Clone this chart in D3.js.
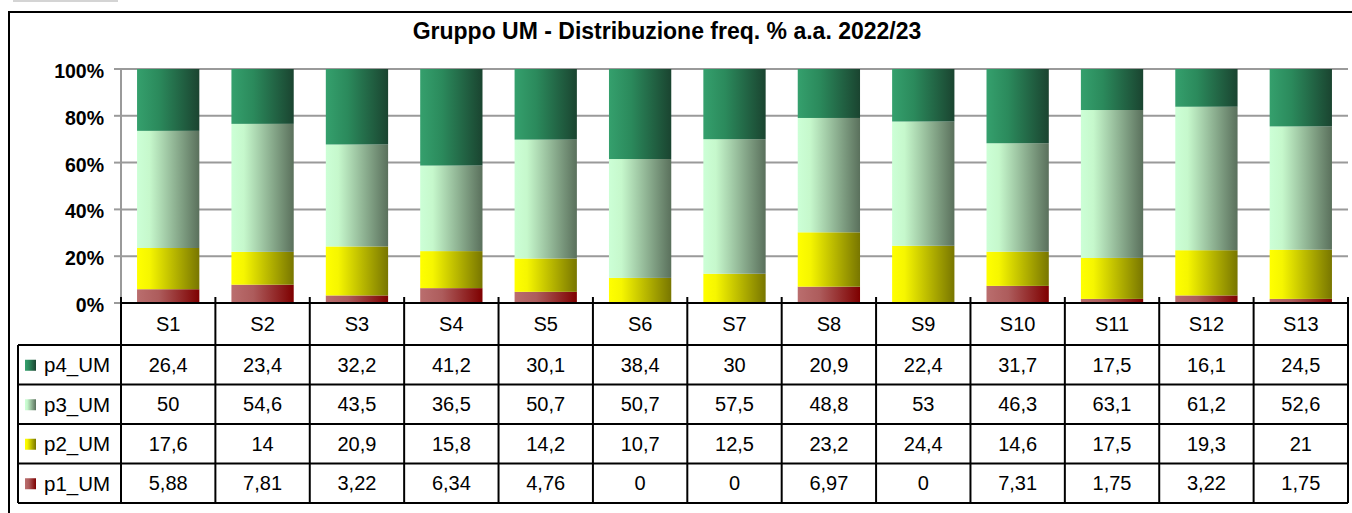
<!DOCTYPE html>
<html><head><meta charset="utf-8">
<script src="https://cdn.jsdelivr.net/npm/d3@7"></script>
<style>body{margin:0;background:#fff}svg{display:block;font-family:"Liberation Sans",Arial,sans-serif}</style>
</head><body>
<svg id="c" width="1352" height="513"></svg>
<script>
const categories = ["S1","S2","S3","S4","S5","S6","S7","S8","S9","S10","S11","S12","S13"];
const p4_UM = [26.4,23.4,32.2,41.2,30.1,38.4,30,20.9,22.4,31.7,17.5,16.1,24.5];
const p3_UM = [50,54.6,43.5,36.5,50.7,50.7,57.5,48.8,53,46.3,63.1,61.2,52.6];
const p2_UM = [17.6,14,20.9,15.8,14.2,10.7,12.5,23.2,24.4,14.6,17.5,19.3,21];
const p1_UM = [5.88,7.81,3.22,6.34,4.76,0,0,6.97,0,7.31,1.75,3.22,1.75];
const seriesNames = ["p1_UM","p2_UM","p3_UM","p4_UM"];
const yTicks = [0,20,40,60,80,100];
const title = "Gruppo UM - Distribuzione freq. % a.a. 2022/23";

const seriesValues = {p1_UM, p2_UM, p3_UM, p4_UM};
const grads = {
  p4_UM: [["0","#35a06d"],["0.35","#2b8a5c"],["1","#1a4430"]],
  p3_UM: [["0","#ccffd6"],["0.2","#c6f8cc"],["1","#5a705c"]],
  p2_UM: [["0","#ffff00"],["0.2","#f6f600"],["1","#787600"]],
  p1_UM: [["0","#ba6e6e"],["0.35","#ad5c5c"],["1","#7e0000"]]
};

const svg = d3.select("#c");
const defs = svg.append("defs");
Object.entries(grads).forEach(([k,stops])=>{
  const g = defs.append("linearGradient").attr("id","g_"+k).attr("x1",0).attr("x2",1).attr("y1",0).attr("y2",0);
  stops.forEach(([o,c])=>g.append("stop").attr("offset",o).attr("stop-color",c));
});

const L=121, R=1348, T=69, B=303;
const x = d3.scaleBand().domain(categories).range([L,R]).paddingInner(0.34).paddingOuter(0.17);
const xc = d3.scaleBand().domain(categories).range([L,R]);
const y = d3.scaleLinear().domain([0,100]).range([B,T]);

// top-left gray tab
svg.append("rect").attr("x",13).attr("y",0).attr("width",105).attr("height",2).attr("fill","#d4d4d4");
// outer border
svg.append("rect").attr("x",9).attr("y",12).attr("width",1360).attr("height",520).attr("fill","none").attr("stroke","#000").attr("stroke-width",2);

svg.append("text").attr("x",667).attr("y",39).attr("text-anchor","middle")
  .attr("font-size",23).attr("font-weight","bold").text(title);

// gridlines
svg.append("g").selectAll("line").data(yTicks.filter(d=>d>0)).join("line")
  .attr("x1",L).attr("x2",R).attr("y1",d=>y(d)).attr("y2",d=>y(d))
  .attr("stroke","#9a9a9a").attr("stroke-width",2);
// left axis
svg.append("line").attr("x1",L).attr("x2",L).attr("y1",T).attr("y2",B).attr("stroke","#9a9a9a").attr("stroke-width",2);
svg.append("g").selectAll("line").data(yTicks).join("line")
  .attr("x1",L-7).attr("x2",L).attr("y1",d=>y(d)).attr("y2",d=>y(d))
  .attr("stroke","#9a9a9a").attr("stroke-width",2);
svg.append("g").selectAll("text").data(yTicks).join("text")
  .attr("x",104).attr("y",d=>y(d)+9).attr("text-anchor","end")
  .attr("font-size",19.5).attr("font-weight","bold").text(d=>d+"%");

// stacked bars
const rows = categories.map((c,i)=>{
  const o={cat:c};
  const tot = seriesNames.reduce((s,n)=>s+seriesValues[n][i],0);
  seriesNames.forEach(n=>o[n]=seriesValues[n][i]/tot*100);
  return o;
});
const stack = d3.stack().keys(seriesNames)(rows);
svg.append("g").selectAll("g").data(stack).join("g")
  .attr("fill",s=>`url(#g_${s.key})`)
  .selectAll("rect").data(s=>s).join("rect")
  .attr("x",d=>x(d.data.cat)).attr("width",x.bandwidth())
  .attr("y",d=>y(d[1])).attr("height",d=>Math.max(0,y(d[0])-y(d[1])));

// data table
const headTop=B, headBot=345, rowH=39.5;
const tableOrder = ["p4_UM","p3_UM","p2_UM","p1_UM"];
const legL = 18;
const tb = svg.append("g");
tb.append("line").attr("x1",L).attr("x2",R).attr("y1",B).attr("y2",B).attr("stroke","#000").attr("stroke-width",2);
for(let i=0;i<=tableOrder.length;i++){
  const yy = headBot+i*rowH;
  tb.append("line").attr("x1",legL).attr("x2",R).attr("y1",yy).attr("y2",yy).attr("stroke","#000").attr("stroke-width",2);
}
const tblBot = headBot+tableOrder.length*rowH;
tb.selectAll("line.v").data(categories).join("line").attr("class","v")
  .attr("x1",d=>xc(d)).attr("x2",d=>xc(d)).attr("y1",B-6).attr("y2",tblBot)
  .attr("stroke","#000").attr("stroke-width",2);
tb.append("line").attr("x1",R).attr("x2",R).attr("y1",B-6).attr("y2",tblBot).attr("stroke","#000").attr("stroke-width",2);
tb.append("line").attr("x1",legL).attr("x2",legL).attr("y1",headBot).attr("y2",tblBot).attr("stroke","#000").attr("stroke-width",2);
tb.selectAll("text.cat").data(categories).join("text").attr("class","cat")
  .attr("x",d=>xc(d)+xc.bandwidth()/2).attr("y",(headTop+headBot)/2+7)
  .attr("text-anchor","middle").attr("font-size",20).text(d=>d);
tableOrder.forEach((n,ri)=>{
  const cy = headBot+ri*rowH+rowH/2;
  tb.append("rect").attr("x",25).attr("y",cy-5).attr("width",11).attr("height",11).attr("fill",`url(#g_${n})`);
  tb.append("text").attr("x",44).attr("y",cy+7.5).attr("font-size",20.5).text(n);
  tb.selectAll("text.v"+ri).data(seriesValues[n]).join("text").attr("class","v"+ri)
    .attr("x",(d,i)=>xc(categories[i])+xc.bandwidth()/2).attr("y",cy+7)
    .attr("text-anchor","middle").attr("font-size",20)
    .text(d=>String(d).replace(".",","));
});
</script>
</body></html>
